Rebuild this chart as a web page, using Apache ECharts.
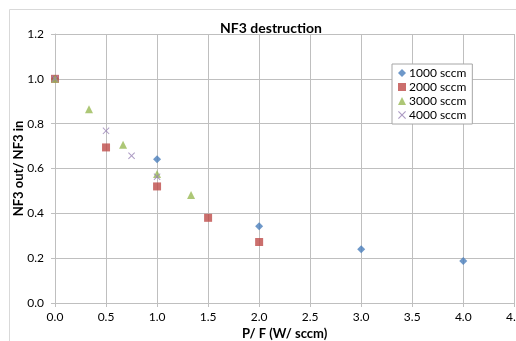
<!DOCTYPE html>
<html><head><meta charset="utf-8">
<script src="https://cdn.jsdelivr.net/npm/echarts@6/dist/echarts.min.js"></script>
<style>html,body{margin:0;padding:0;background:#fff}#c{width:516px;height:341px}</style>
</head><body><div id="c"></div>
<script>
const xTicks = [0.0,0.5,1.0,1.5,2.0,2.5,3.0,3.5,4.0,4.5];
const s1000 = [[0,1.0],[1.0,0.641],[2.0,0.342],[3.0,0.240],[4.0,0.187]];
const s2000 = [[0,1.0],[0.5,0.694],[1.0,0.520],[1.5,0.380],[2.0,0.272]];
const s3000 = [[0,1.0],[0.333,0.864],[0.667,0.706],[1.0,0.575],[1.333,0.482]];
const s4000 = [[0,1.0],[0.5,0.768],[0.75,0.657],[1.0,0.563]];
const names = ['1000 sccm','2000 sccm','3000 sccm','4000 sccm'];
const crossPath = 'path://M0,1L1,0L5,4L9,0L10,1L6,5L10,9L9,10L5,6L1,10L0,9L4,5Z';
const font = 'Lato, "Open Sans", sans-serif';
const chart = echarts.init(document.getElementById('c'));
chart.setOption({
  animation:false,
  graphic:[{type:'rect',shape:{x:9.5,y:9.5,width:600,height:400},style:{fill:'none',stroke:'#d9d9d9',lineWidth:1},silent:true,z:-10}],
  title:{text:'NF3 destruction',left:266,top:16,textAlign:'center',textStyle:{fontFamily:font,fontSize:14,fontWeight:'bold',color:'#000'}},
  grid:{left:55,top:34,right:1.7,bottom:38,containLabel:false,outerBoundsMode:'none'},
  legend:{orient:'vertical',left:392,top:64,backgroundColor:'#fff',borderColor:'#a6a6a6',borderWidth:1,padding:[3,6,3,6],itemGap:2,itemWidth:8,itemHeight:8,
    textStyle:{fontFamily:font,fontSize:12,color:'#000',padding:[0,0,0,-2]},data:names},
  xAxis:{type:'value',min:0,max:4.5,interval:0.5,
    name:'P/ F (W/ sccm)',nameLocation:'middle',nameGap:24,nameMoveOverlap:false,nameTextStyle:{fontFamily:font,fontSize:13,fontWeight:'bold',color:'#000'},
    axisLine:{show:true,onZero:false,lineStyle:{color:'#bfbfbf'}},axisTick:{show:true,length:4,lineStyle:{color:'#bfbfbf'}},
    axisLabel:{fontFamily:font,fontSize:12,color:'#000',margin:8,formatter:v=>v.toFixed(1)},
    splitLine:{show:true,lineStyle:{color:'#bfbfbf',width:1}}},
  yAxis:{type:'value',min:0,max:1.2,interval:0.2,
    name:'NF3 out/ NF3 in',nameLocation:'middle',nameGap:30,nameMoveOverlap:false,nameTextStyle:{fontFamily:font,fontSize:13,fontWeight:'bold',color:'#000'},
    axisLine:{show:true,lineStyle:{color:'#bfbfbf'}},axisTick:{show:true,length:4,lineStyle:{color:'#bfbfbf'}},
    axisLabel:{fontFamily:font,fontSize:12,color:'#000',margin:11,formatter:v=>v.toFixed(1)},
    splitLine:{show:true,lineStyle:{color:'#bfbfbf',width:1}}},
  series:[
    {name:names[0],type:'scatter',data:s1000,symbol:'diamond',symbolSize:8,itemStyle:{color:'#4a7ebb'}},
    {name:names[1],type:'scatter',data:s2000,symbol:'rect',symbolSize:8,itemStyle:{color:'#be4b48'}},
    {name:names[2],type:'scatter',data:s3000,symbol:'triangle',symbolSize:8,itemStyle:{color:'#98b954'}},
    {name:names[3],type:'scatter',data:s4000,symbol:crossPath,symbolSize:7,itemStyle:{color:'#9983b5'}}
  ]
});
</script></body></html>
